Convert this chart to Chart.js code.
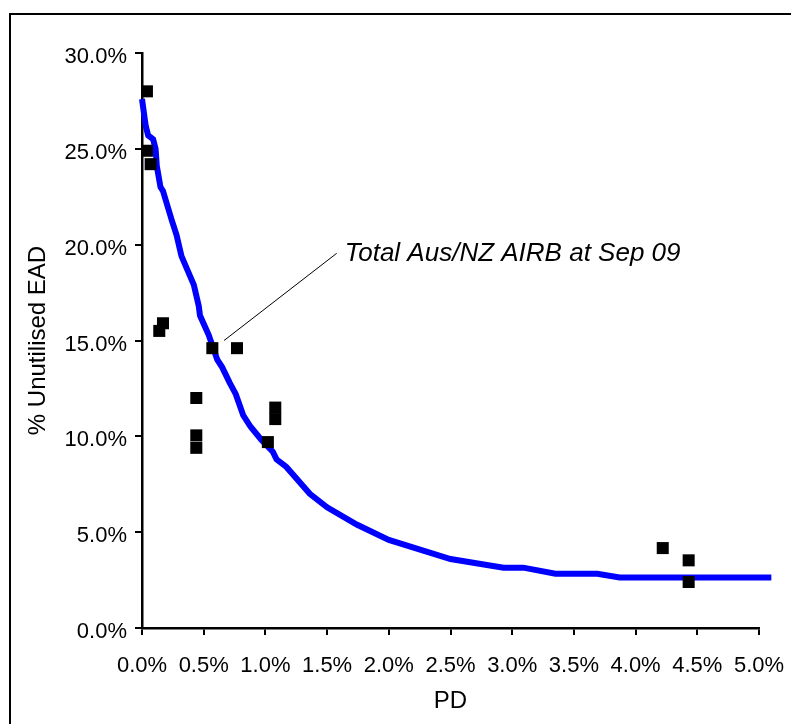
<!DOCTYPE html>
<html>
<head>
<meta charset="utf-8">
<script src="https://cdn.jsdelivr.net/npm/chart.js@4"></script>
<style>
  html, body { margin: 0; padding: 0; background: #fff; }
  #wrap { position: relative; width: 791px; height: 724px; overflow: hidden; background: #fff; }
  #frame { position: absolute; left: 9px; top: 13px; width: 820px; height: 820px;
           border-left: 2px solid #000; border-top: 2px solid #000; }
  #myChart { position: absolute; left: 0; top: 0; }
</style>
</head>
<body>
<div id="wrap">
  <div id="frame"></div>
  <canvas id="myChart" width="791" height="724"></canvas>
</div>
<script>
// fitted curve (PD %, unutilised EAD %)
const curvePD  = [0.0, 0.03, 0.05, 0.09, 0.11, 0.12, 0.15, 0.17, 0.24, 0.28, 0.32, 0.42, 0.46, 0.47,
                  0.54, 0.61, 0.65, 0.71, 0.76, 0.82, 0.88, 0.97, 1.06, 1.09, 1.17, 1.36, 1.50, 1.74,
                  2.00, 2.50, 2.93, 3.09, 3.35, 3.69, 3.87, 5.10];
const curveEAD = [27.6, 26.2, 25.7, 25.5, 25.0, 24.1, 23.0, 22.8, 21.3, 20.5, 19.4, 17.9, 16.8, 16.3,
                  15.3, 14.0, 13.6, 12.8, 12.2, 11.1, 10.5, 9.8, 9.2, 8.8, 8.4, 7.0, 6.3, 5.4,
                  4.6, 3.6, 3.15, 3.15, 2.83, 2.83, 2.64, 2.64];

// observed points
const obsPD  = [0.04, 0.04, 0.07, 0.17, 0.14, 0.57, 0.77, 0.44, 0.44, 0.44, 1.08, 1.08, 1.02, 4.22, 4.43, 4.43];
const obsEAD = [28.0, 24.9, 24.2, 15.9, 15.5, 14.6, 14.6, 12.0, 10.05, 9.4, 11.5, 10.9, 9.7, 4.17, 3.53, 2.4];

const xTicks = [0.0, 0.5, 1.0, 1.5, 2.0, 2.5, 3.0, 3.5, 4.0, 4.5, 5.0];
const yTicks = [0, 5, 10, 15, 20, 25, 30];

const calloutText = 'Total Aus/NZ AIRB at Sep 09';
const calloutFrom = [0.665, 15.0];
const calloutTo   = [1.578, 19.55];

const FONT = '"Liberation Sans", Arial, sans-serif';

const callout = {
  id: 'callout',
  afterDatasetsDraw(chart) {
    const ctx = chart.ctx;
    const x = chart.scales.x, y = chart.scales.y;
    const x0 = x.getPixelForValue(calloutFrom[0]), y0 = y.getPixelForValue(calloutFrom[1]);
    const x1 = x.getPixelForValue(calloutTo[0]), y1 = y.getPixelForValue(calloutTo[1]);
    ctx.save();
    ctx.strokeStyle = '#000';
    ctx.lineWidth = 1;
    ctx.beginPath();
    ctx.moveTo(x0, y0);
    ctx.lineTo(x1, y1);
    ctx.stroke();
    ctx.font = 'italic 26px ' + FONT;
    ctx.fillStyle = '#000';
    ctx.textBaseline = 'middle';
    ctx.fillText(calloutText, x1 + 8, y1);
    ctx.restore();
  }
};

const ctx = document.getElementById('myChart');
new Chart(ctx, {
  type: 'scatter',
  data: {
    datasets: [{
      label: 'Observed',
      data: obsPD.map((v, i) => ({ x: v, y: obsEAD[i] })),
      pointStyle: 'rect',
      pointRadius: 8.5,
      pointHoverRadius: 8.5,
      backgroundColor: '#000',
      borderColor: '#000',
      borderWidth: 0
    }, {
      label: 'Curve',
      data: curvePD.map((v, i) => ({ x: v, y: curveEAD[i] })),
      showLine: true,
      borderColor: '#0000ff',
      borderWidth: 6,
      pointRadius: 0,
      tension: 0,
      clip: false
    }]
  },
  options: {
    responsive: false,
    animation: false,
    events: [],
    layout: { padding: { left: 0, top: 53, right: 32, bottom: 0 } },
    plugins: {
      legend: { display: false },
      tooltip: { enabled: false }
    },
    scales: {
      x: {
        type: 'linear',
        min: 0,
        max: 5,
        afterBuildTicks(scale) { scale.ticks = xTicks.map(v => ({ value: v })); },
        afterFit(scale) { scale.height = 96; scale.paddingLeft = 0; scale.paddingRight = 0; },
        border: { color: '#000', width: 2.5 },
        grid: { drawOnChartArea: false, tickLength: 7, color: '#000', lineWidth: 2 },
        ticks: {
          color: '#000',
          padding: 18,
          maxRotation: 0,
          font: { family: FONT, size: 22 },
          callback: v => v.toFixed(1) + '%'
        },
        title: {
          display: true,
          text: 'PD',
          color: '#000',
          padding: { top: 0, bottom: 8 },
          font: { family: FONT, size: 24 }
        }
      },
      y: {
        type: 'linear',
        min: 0,
        max: 30,
        afterBuildTicks(scale) { scale.ticks = yTicks.map(v => ({ value: v })); },
        afterFit(scale) { scale.width = 142; },
        border: { color: '#000', width: 2.5 },
        grid: { drawOnChartArea: false, tickLength: 7, color: '#000', lineWidth: 2 },
        ticks: {
          color: '#000',
          padding: 8,
          labelOffset: 4,
          font: { family: FONT, size: 22 },
          callback: v => v.toFixed(1) + '%'
        },
        title: {
          display: true,
          text: '% Unutilised EAD',
          color: '#000',
          padding: { top: 24, bottom: 0 },
          font: { family: FONT, size: 24 }
        }
      }
    }
  },
  plugins: [callout]
});
</script>
</body>
</html>
